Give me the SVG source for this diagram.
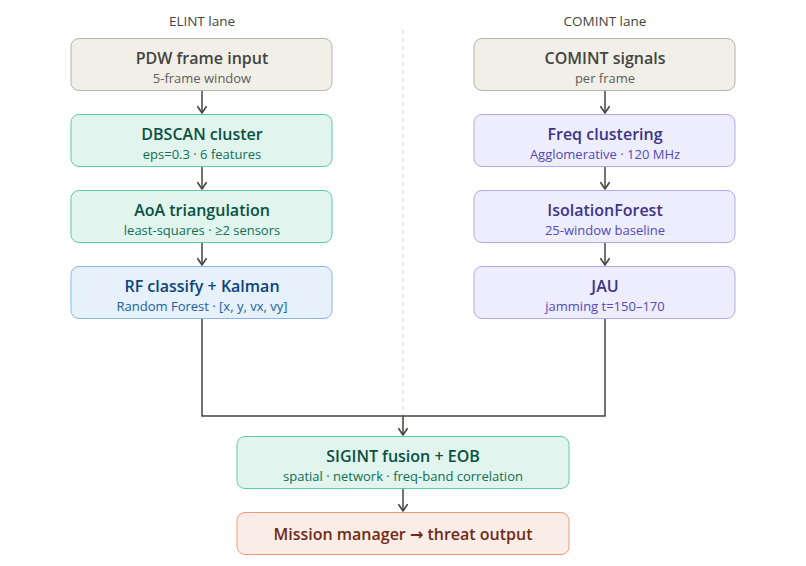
<svg xmlns="http://www.w3.org/2000/svg" width="806" height="566" viewBox="0 0 806 566">
<defs>
<marker id="arr" viewBox="0 0 10 10" refX="8" refY="5" markerWidth="7" markerHeight="7" orient="auto-start-reverse">
<path d="M2 1L8 5L2 9" fill="none" stroke="#444441" stroke-width="1.5" stroke-linecap="round" stroke-linejoin="round"/>
</marker>
<style>
text{font-family:"Open Sans","Noto Sans","DejaVu Sans",sans-serif;text-anchor:middle}
.t{font-size:16px;font-weight:600}
.s{font-size:13px}
.lane{font-size:13.5px;fill:#444441}
.c{fill:none;stroke:#444441;stroke-width:1.5}
.gray rect{fill:#f1efe8;stroke:#b4b2a9}
.gray .t{fill:#444441}.gray .s{fill:#5f5e5a}
.green rect{fill:#e1f5ee;stroke:#5dcaa5}
.green .t{fill:#085041}.green .s{fill:#0f6e56}
.blue rect{fill:#e6f1fb;stroke:#85b7eb}
.blue .t{fill:#0c447c}.blue .s{fill:#185fa5}
.purple rect{fill:#eeedfe;stroke:#afa9ec}
.purple .t{fill:#3c3489}.purple .s{fill:#534ab7}
.coral rect{fill:#faece7;stroke:#f0997b}
.coral .t{fill:#712b13}
</style>
</defs>
<rect width="806" height="566" fill="#ffffff"/>
<line x1="403" y1="30" x2="403" y2="430" stroke="#d3d1c7" stroke-width="1" stroke-dasharray="4 4"/>
<text class="lane" x="202" y="26">ELINT lane</text>
<text class="lane" x="605" y="26">COMINT lane</text>

<g id="connectors">
<line class="c" x1="202" y1="90" x2="202" y2="113" marker-end="url(#arr)"/>
<line class="c" x1="202" y1="166" x2="202" y2="189" marker-end="url(#arr)"/>
<line class="c" x1="202" y1="242" x2="202" y2="265" marker-end="url(#arr)"/>
<line class="c" x1="605" y1="90" x2="605" y2="113" marker-end="url(#arr)"/>
<line class="c" x1="605" y1="166" x2="605" y2="189" marker-end="url(#arr)"/>
<line class="c" x1="605" y1="242" x2="605" y2="265" marker-end="url(#arr)"/>
<path class="c" d="M202 318V416H605V318"/>
<line class="c" x1="403" y1="416" x2="403" y2="435" marker-end="url(#arr)"/>
<line class="c" x1="403" y1="488" x2="403" y2="511" marker-end="url(#arr)"/>
</g>

<g id="pdw" class="gray"><rect x="71" y="38.5" width="261" height="52" rx="8"/><text class="t" x="202" y="64">PDW frame input</text><text class="s" x="202" y="83">5-frame window</text></g>
<g id="dbscan" class="green"><rect x="71" y="114.5" width="261" height="52" rx="8"/><text class="t" x="202" y="140">DBSCAN cluster</text><text class="s" x="202" y="159">eps=0.3 · 6 features</text></g>
<g id="aoa" class="green"><rect x="71" y="190.5" width="261" height="52" rx="8"/><text class="t" x="202" y="216">AoA triangulation</text><text class="s" x="202" y="235">least-squares · ≥2 sensors</text></g>
<g id="rf" class="blue"><rect x="71" y="266.5" width="261" height="52" rx="8"/><text class="t" x="202" y="292">RF classify + Kalman</text><text class="s" x="202" y="311">Random Forest · [x, y, vx, vy]</text></g>

<g id="comint" class="gray"><rect x="474" y="38.5" width="261" height="52" rx="8"/><text class="t" x="605" y="64">COMINT signals</text><text class="s" x="605" y="83">per frame</text></g>
<g id="freq" class="purple"><rect x="474" y="114.5" width="261" height="52" rx="8"/><text class="t" x="605" y="140">Freq clustering</text><text class="s" x="605" y="159">Agglomerative · 120 MHz</text></g>
<g id="iso" class="purple"><rect x="474" y="190.5" width="261" height="52" rx="8"/><text class="t" x="605" y="216">IsolationForest</text><text class="s" x="605" y="235">25-window baseline</text></g>
<g id="jau" class="purple"><rect x="474" y="266.5" width="261" height="52" rx="8"/><text class="t" x="605" y="292">JAU</text><text class="s" x="605" y="311">jamming t=150–170</text></g>

<g id="fusion" class="green"><rect x="237" y="436.5" width="332" height="52" rx="8"/><text class="t" x="403" y="462">SIGINT fusion + EOB</text><text class="s" x="403" y="481">spatial · network · freq-band correlation</text></g>
<g id="mission" class="coral"><rect x="237" y="512.5" width="332" height="42" rx="8"/><text class="t" x="403" y="540">Mission manager → threat output</text></g>
</svg>
